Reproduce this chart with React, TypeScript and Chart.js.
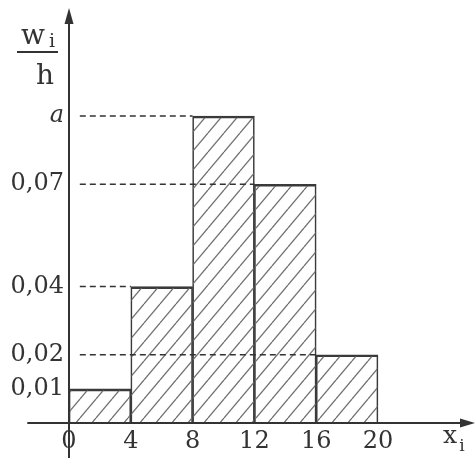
import React, { useEffect, useRef } from 'react';
import Chart from 'chart.js/auto';

const binEdges = [0, 4, 8, 12, 16, 20];
const density = [0.01, 0.04, 0.09, 0.07, 0.02];
const yTickValues = [0.01, 0.02, 0.04, 0.07, 0.09];
const yTickLabels = ['0,01', '0,02', '0,04', '0,07', 'a'];
const xTickValues = [0, 4, 8, 12, 16, 20];
const xTickLabels = ['0', '4', '8', '12', '16', '20'];
const guideLevels = [0.09, 0.07, 0.04, 0.02];
const guideEnds = [8, 12, 4, 16];
const guideStart = 0.7;

const FONT = '"DejaVu Serif", "Liberation Serif", serif';
const INK = '#333';

const axesPlugin = {
  id: 'handAxes',
  afterDatasetsDraw(chart: any) {
    const { ctx, scales } = chart;
    const xs = scales.x;
    const ys = scales.y;
    const x0 = xs.getPixelForValue(0);
    const y0 = ys.getPixelForValue(0);
    const W = chart.width;
    const H = chart.height;
    ctx.save();
    ctx.strokeStyle = INK;
    ctx.fillStyle = INK;
    ctx.lineWidth = 2;
    // x axis
    ctx.beginPath();
    ctx.moveTo(xs.getPixelForValue(-2.7), y0);
    ctx.lineTo(W - 8, y0);
    ctx.stroke();
    ctx.beginPath();
    ctx.moveTo(W, y0);
    ctx.lineTo(W - 15, y0 - 4.5);
    ctx.lineTo(W - 15, y0 + 4.5);
    ctx.closePath();
    ctx.fill();
    // y axis
    ctx.beginPath();
    ctx.moveTo(x0, H);
    ctx.lineTo(x0, 20);
    ctx.stroke();
    ctx.beginPath();
    ctx.moveTo(x0, 8);
    ctx.lineTo(x0 - 4.5, 24);
    ctx.lineTo(x0 + 4.5, 24);
    ctx.closePath();
    ctx.fill();
    // y label: w_i / h
    ctx.textAlign = 'center';
    ctx.textBaseline = 'alphabetic';
    ctx.font = `28px ${FONT}`;
    ctx.fillText('w', 33, 44);
    ctx.fillText('h', 45, 84);
    ctx.font = `19px ${FONT}`;
    ctx.fillText('i', 52, 47);
    ctx.beginPath();
    ctx.moveTo(17, 52);
    ctx.lineTo(58, 52);
    ctx.stroke();
    // x label: x_i
    ctx.font = `25px ${FONT}`;
    ctx.fillText('x', 450, 443);
    ctx.font = `17px ${FONT}`;
    ctx.fillText('i', 462, 451);
    ctx.restore();
  },
};

function makeHatch(): CanvasPattern | string {
  const w = 16;
  const h = 19;
  const c = document.createElement('canvas');
  c.width = w;
  c.height = h;
  const g = c.getContext('2d');
  if (!g) return 'transparent';
  g.strokeStyle = '#707070';
  g.lineWidth = 1.3;
  for (let k = -1; k <= 1; k++) {
    g.beginPath();
    g.moveTo(k * w, h);
    g.lineTo(k * w + w, 0);
    g.stroke();
  }
  const p = g.createPattern(c, 'repeat');
  return p || 'transparent';
}

export default function App() {
  const ref = useRef<HTMLCanvasElement>(null);
  useEffect(() => {
    const canvas = ref.current;
    if (!canvas) return;
    const hatch = makeHatch();
    const barData = density.map((d, i) => ({ x: (binEdges[i] + binEdges[i + 1]) / 2, y: d }));
    const guides = guideLevels.map((lv, i) => ({
      type: 'line' as const,
      data: [
        { x: guideStart, y: lv },
        { x: guideEnds[i], y: lv },
      ],
      borderColor: INK,
      borderWidth: 1.6,
      borderDash: [6, 4],
      pointRadius: 0,
      fill: false,
    }));
    const chart = new Chart(canvas, {
      type: 'bar',
      data: {
        datasets: [
          ...guides,
          {
            type: 'bar' as const,
            data: barData,
            backgroundColor: hatch as any,
            borderColor: '#3a3a3a',
            borderWidth: { top: 2, left: 1, right: 1, bottom: 0 },
            borderSkipped: false,
            barPercentage: 1,
            categoryPercentage: 1,
          },
        ] as any,
      },
      options: {
        responsive: false,
        animation: false,
        layout: { padding: 0 },
        plugins: { legend: { display: false }, tooltip: { enabled: false } },
        scales: {
          x: {
            type: 'linear',
            min: 0,
            max: 26.28,
            offset: false,
            grid: { display: false, drawTicks: false },
            border: { display: false },
            afterFit: (s: any) => {
              s.height = 35;
              s.paddingLeft = 0;
              s.paddingRight = 0;
            },
            afterBuildTicks: (s: any) => {
              s.ticks = xTickValues.map((v) => ({ value: v }));
            },
            ticks: {
              padding: 4,
              maxRotation: 0,
              autoSkip: false,
              color: INK,
              font: { family: FONT, size: 24 },
              callback: (_v: any, i: number) => xTickLabels[i],
            },
          },
          y: {
            type: 'linear',
            min: 0,
            max: 0.124,
            grid: { display: false, drawTicks: false },
            border: { display: false },
            afterFit: (s: any) => {
              s.width = 69;
              s.paddingTop = 0;
              s.paddingBottom = 0;
            },
            afterBuildTicks: (s: any) => {
              s.ticks = yTickValues.map((v) => ({ value: v }));
            },
            ticks: {
              padding: 5,
              color: INK,
              font: (ctx: any) => ({
                family: FONT,
                size: 24,
                style: yTickLabels[ctx.index] === 'a' ? 'italic' : 'normal',
              }),
              callback: (_v: any, i: number) => yTickLabels[i],
            },
          },
        },
      } as any,
      plugins: [axesPlugin],
    });
    return () => chart.destroy();
  }, []);
  return (
    <div style={{ position: 'fixed', left: 0, top: 0, width: 475, height: 458, background: '#fff' }}>
      <canvas ref={ref} width={475} height={458} style={{ display: 'block' }} />
    </div>
  );
}
